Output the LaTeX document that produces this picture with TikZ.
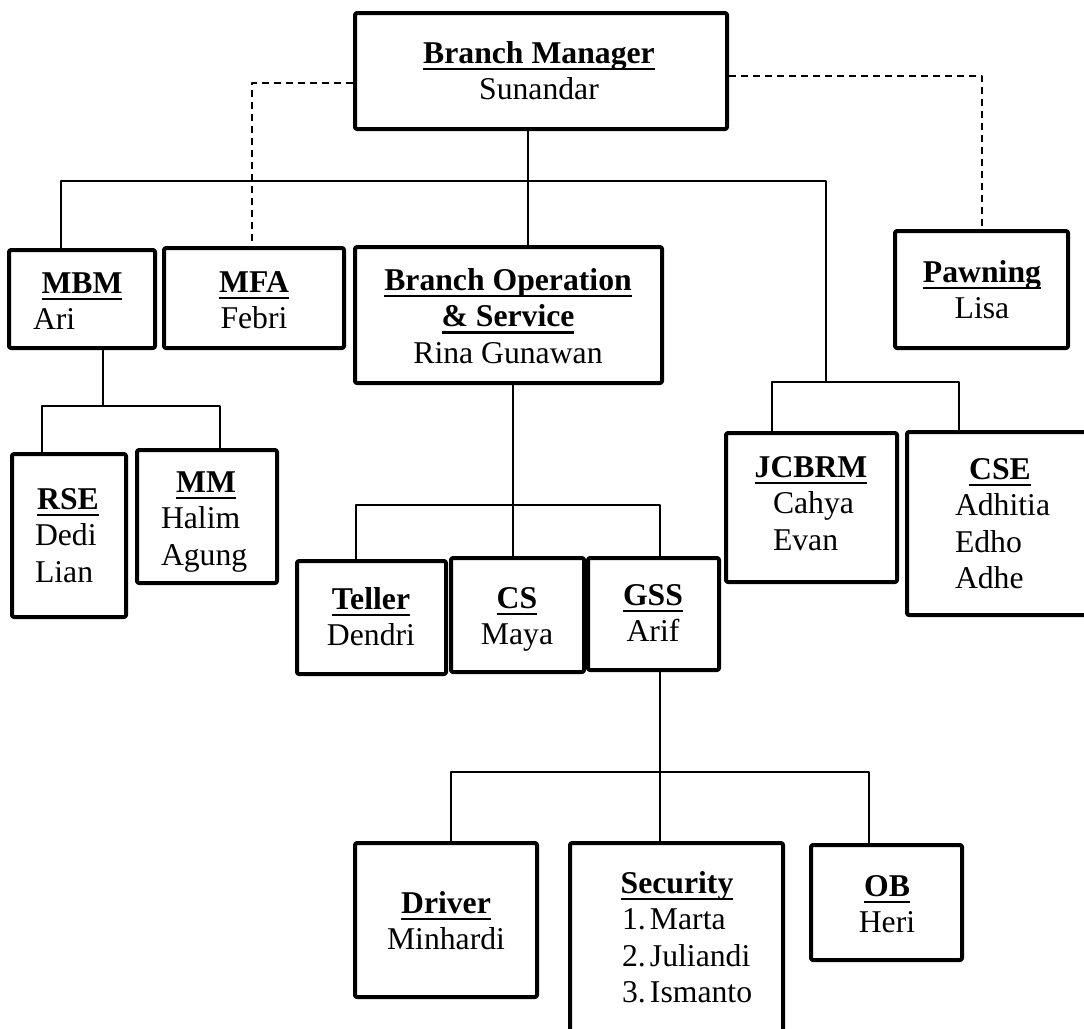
\documentclass[tikz,border=0pt]{standalone}
\usepackage{fontspec}
\setmainfont{Liberation Serif}
\newcommand\ulbf[1]{\setbox0\hbox{\bfseries #1}\rlap{\rule[-3.6pt]{\wd0}{1.35pt}}\box0}
\newcommand\stack[1]{\begin{tabular}[t]{@{}c@{}}#1\end{tabular}}
\newcommand\lft[2]{\makebox[#1][l]{#2}}
\newcommand\orgbox[5]{\node[orgbox,minimum width={(#4-#2)*0.5pt},minimum height={(#5-#3)*0.5pt}] (#1) at ({(#2+#4)/2},{(#3+#5)/2}) {};}
\begin{document}
\begin{tikzpicture}[x=0.5pt,y=-0.5pt,line join=round,
  font=\fontsize{15.85}{18.25}\selectfont,
  orgbox/.style={draw,line width=2pt,inner sep=0pt,rounded corners=1pt},
  txt/.style={anchor=base,inner sep=0pt},
  link/.style={line width=0.8pt},
  staff/.style={line width=0.8pt,dash pattern=on 3.5pt off 2.5pt}]
\useasboundingbox (0,0) rectangle (1084,1029);
\clip (0,0) rectangle (1084,1029);
\fill[white] (0,0) rectangle (1084,1029);
%% boxes
\orgbox{bm}{355}{13}{727}{129}
\orgbox{mbm}{9}{250}{155}{348}
\orgbox{mfa}{164}{248}{344}{348}
\orgbox{bos}{355}{247}{662}{383}
\orgbox{paw}{895}{231}{1068}{348}
\orgbox{rse}{12}{454}{126}{617}
\orgbox{mm}{137}{450}{277}{583}
\orgbox{tel}{297}{561}{446}{674}
\orgbox{cs}{451}{558}{584}{672}
\orgbox{gss}{588}{558}{719}{670}
\orgbox{jcb}{726}{433}{897}{582}
\orgbox{cse}{907}{432}{1110}{615}
\orgbox{drv}{355}{843}{537}{997}
\orgbox{sec}{570}{843}{783}{1050}
\orgbox{ob}{811}{845}{962}{960}
%% texts
\node[txt] (bm-txt) at (539,63) {\stack{\ulbf{Branch Manager}\\Sunandar}};
\node[txt] (mbm-txt) at (82,293) {\stack{\ulbf{MBM}\\\lft{49pt}{Ari}}};
\node[txt] (mfa-txt) at (254,292) {\stack{\ulbf{MFA}\\Febri}};
\node[txt] (bos-txt) at (508,290) {\stack{\ulbf{Branch Operation}\\\ulbf{\& Service}\\Rina Gunawan}};
\node[txt] (paw-txt) at (982,282) {\stack{\ulbf{Pawning}\\Lisa}};
\node[txt] (rse-txt) at (68,509) {\stack{\ulbf{RSE}\\\lft{33pt}{Dedi}\\\lft{33pt}{Lian}}};
\node[txt] (mm-txt) at (206,492) {\stack{\ulbf{MM}\\\lft{45pt}{Halim}\\\lft{45pt}{Agung}}};
\node[txt] (tel-txt) at (371,609) {\stack{\ulbf{Teller}\\Dendri}};
\node[txt] (cs-txt) at (517,608) {\stack{\ulbf{CS}\\Maya}};
\node[txt] (gss-txt) at (653,605) {\stack{\ulbf{GSS}\\Arif}};
\node[txt] (jcb-txt) at (811,477) {\stack{\ulbf{JCBRM}\\\lft{38pt}{Cahya}\\\lft{38pt}{Evan}}};
\node[txt] (cse-txt) at (1000,479) {\stack{\ulbf{CSE}\\\lft{45pt}{Adhitia}\\\lft{45pt}{Edho}\\\lft{45pt}{Adhe}}};
\node[txt] (drv-txt) at (446,913) {\stack{\ulbf{Driver}\\Minhardi}};
\node[txt] (sec-txt) at (677,893) {\stack{\ulbf{Security}\\
  \lft{55pt}{\makebox[14pt][l]{1.}Marta}\\
  \lft{55pt}{\makebox[14pt][l]{2.}Juliandi}\\
  \lft{55pt}{\makebox[14pt][l]{3.}Ismanto}}};
\node[txt] (ob-txt) at (887,896) {\stack{\ulbf{OB}\\Heri}};
%% connectors
\coordinate (trunk) at (528,181);
\coordinate (barL) at (61,181);
\coordinate (barR) at (826,181);
\coordinate (jcT) at (826,382);
\coordinate (jcL) at (772,382);
\coordinate (jcR) at (959,382);
\draw[link] (bm.south -| trunk) -- (bos.north -| trunk);
\draw[link] (mbm.north -| barL) -- (barL) -- (barR) -- (jcT);
\draw[link] (jcb.north -| jcL) -- (jcL) -- (jcR) -- (cse.north -| jcR);
%
\coordinate (mbmT) at (103,406);
\coordinate (mbmL) at (42,406);
\coordinate (mbmR) at (220,406);
\draw[link] (mbm.south -| mbmT) -- (mbmT);
\draw[link] (rse.north -| mbmL) -- (mbmL) -- (mbmR) -- (mm.north -| mbmR);
%
\coordinate (bosT) at (513,505);
\coordinate (bosL) at (356,505);
\coordinate (bosR) at (660,505);
\draw[link] (bos.south -| bosT) -- (cs.north -| bosT);
\draw[link] (tel.north -| bosL) -- (bosL) -- (bosR) -- (gss.north -| bosR);
%
\coordinate (gssT) at (660,772);
\coordinate (gssL) at (451,772);
\coordinate (gssR) at (869,772);
\draw[link] (gss.south -| gssT) -- (sec.north -| gssT);
\draw[link] (drv.north -| gssL) -- (gssL) -- (gssR) -- (ob.north -| gssR);
%
\coordinate (dL) at (252,83);
\coordinate (dR) at (982,76);
\draw[staff] (bm.west |- dL) -- (dL) -- (mfa.north -| dL);
\draw[staff] (bm.east |- dR) -- (dR) -- (paw.north -| dR);
\end{tikzpicture}
\end{document}
